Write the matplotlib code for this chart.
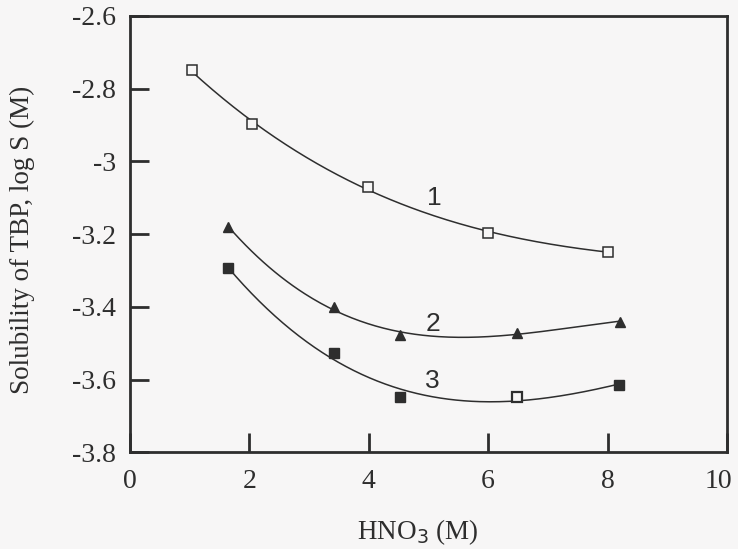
import numpy as np
import matplotlib
matplotlib.use("Agg")
import matplotlib.pyplot as plt
import matplotlib.transforms as mtransforms

# HNO3 concentration (M) and log S of TBP for the three systems
x1 = [1.03, 2.04, 3.98, 6.00, 8.00]
y1 = [-2.748, -2.897, -3.069, -3.197, -3.248]

x2 = [1.64, 3.41, 4.52, 6.49, 8.21]
y2 = [-3.179, -3.401, -3.477, -3.471, -3.440]

x3 = [1.64, 3.41, 4.52, 6.49, 8.20]
y3 = [-3.294, -3.527, -3.647, -3.648, -3.614]

curve_labels = ["1", "2", "3"]

xticks = [0, 2, 4, 6, 8, 10]
yticks = [-3.8, -3.6, -3.4, -3.2, -3.0, -2.8, -2.6]
ytick_labels = ["-3.8", "-3.6", "-3.4", "-3.2", "-3", "-2.8", "-2.6"]

ink = "#2e2e2e"
bg = "#f7f6f6"


def smooth_fit(x, y, deg=3):
    """Polynomial least-squares trend, evaluated on a fine grid."""
    x = np.asarray(x, float)
    y = np.asarray(y, float)
    p = np.polyfit(x, y, deg)
    xs = np.linspace(x.min(), x.max(), 200)
    return xs, np.polyval(p, xs)


fig = plt.figure(figsize=(7.38, 5.49), dpi=100, facecolor=bg)
ax = fig.add_axes([0.1762, 0.1758, 0.8088, 0.7951], facecolor=bg)

for xs, ys in (smooth_fit(x1, y1), smooth_fit(x2, y2), smooth_fit(x3, y3)):
    ax.plot(xs, ys, color=ink, lw=1.1, zorder=2)

ax.plot(x1, y1, ls="none", marker="s", ms=7, mfc=bg, mec=ink, mew=1.1, zorder=3)
ax.plot(x2, y2, ls="none", marker="^", ms=7.5, mfc=ink, mec=ink, zorder=3)
# the 6.5 M point of curve 3 is drawn open
fill3 = [i for i in range(len(x3)) if i != 3]
ax.plot([x3[i] for i in fill3], [y3[i] for i in fill3], ls="none", marker="s",
        ms=7, mfc=ink, mec=ink, zorder=3)
ax.plot([x3[3]], [y3[3]], ls="none", marker="s", ms=7, mfc=bg, mec=ink,
        mew=1.6, zorder=3)

label_font = dict(family="Liberation Sans", fontsize=19, color=ink,
                  ha="center", va="center")
ax.text(5.09, -3.100, curve_labels[0], **label_font)
ax.text(5.08, -3.447, curve_labels[1], **label_font)
ax.text(5.06, -3.603, curve_labels[2], **label_font)

ax.set_xlim(0, 10)
ax.set_ylim(-3.8, -2.6)
ax.set_xticks(xticks)
ax.set_yticks(yticks)
ax.set_yticklabels(ytick_labels)

for s in ax.spines.values():
    s.set_linewidth(2.0)
    s.set_color(ink)

ax.tick_params(direction="in", length=14, width=2, color=ink,
               labelsize=20, labelcolor=ink)
ax.tick_params(axis="x", pad=12)
ax.tick_params(axis="y", pad=10)
for lab in ax.get_xticklabels() + ax.get_yticklabels():
    lab.set_family("Liberation Serif")

# keep the last x tick label inside the figure edge
last = ax.get_xticklabels()[-1]
last.set_transform(last.get_transform() +
                   mtransforms.ScaledTranslation(-6 / 72, 0, fig.dpi_scale_trans))

matplotlib.rcParams["mathtext.fontset"] = "custom"
matplotlib.rcParams["mathtext.rm"] = "Liberation Serif"
ax.set_xlabel(r"HNO$_\mathrm{3}$ (M)", family="Liberation Serif",
              fontsize=19.5, color=ink)
ax.set_ylabel("Solubility of TBP, log S (M)", family="Liberation Serif",
              fontsize=19.5, color=ink)
ax.xaxis.set_label_coords(0.482, -0.148)
ax.yaxis.set_label_coords(-0.159, 0.487)

fig.savefig("out.png", dpi=100, facecolor=bg)
